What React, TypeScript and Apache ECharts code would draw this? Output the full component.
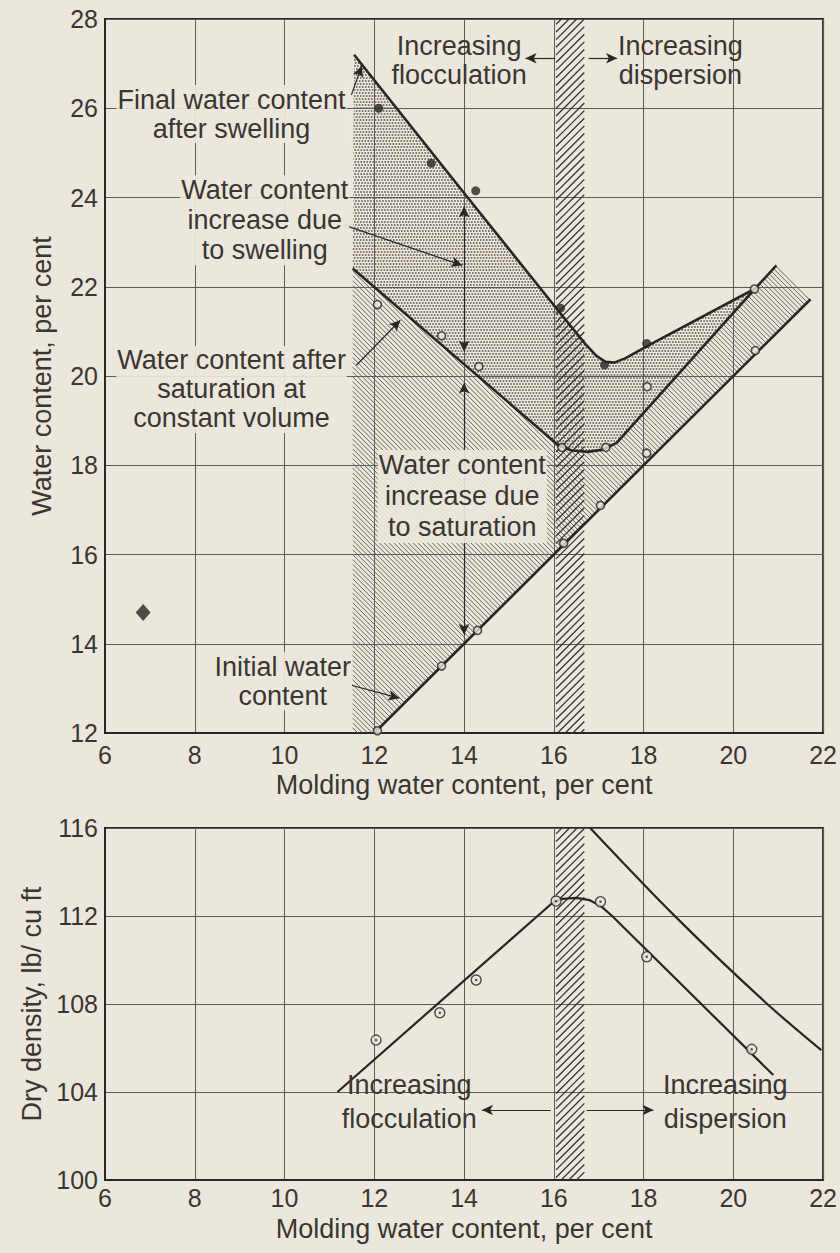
import React, { useEffect, useRef } from "react";
import * as echarts from "echarts";

// ---------- data ----------
// Upper chart: water content vs molding water content
const finalCurve = [
  [11.55, 27.2], [14.0, 24.1], [16.15, 21.4], [16.7, 20.72], [16.95, 20.45],
  [17.15, 20.32], [17.35, 20.3], [17.6, 20.4], [18.1, 20.68], [20.47, 21.95],
];
const finalPoints = [
  [12.1, 26.0], [13.27, 24.77], [14.26, 24.15], [16.15, 21.52], [17.13, 20.25], [18.07, 20.73],
];
const saturatedCurve = [
  [11.52, 22.41], [16.1, 18.45], [16.4, 18.33], [16.75, 18.3], [17.1, 18.35],
  [17.4, 18.5], [20.47, 21.94], [20.96, 22.48],
];
const saturatedPoints = [
  [12.07, 21.6], [13.5, 20.9], [14.33, 20.21], [16.18, 18.4], [17.16, 18.4], [18.08, 19.76], [20.47, 21.95],
];
const initialLine = [[12.0, 12.0], [21.72, 21.72]];
const initialPoints = [
  [12.07, 12.05], [13.5, 13.5], [14.3, 14.3], [16.22, 16.25], [17.04, 17.1], [18.07, 18.27], [20.49, 20.57],
];
const strayPoint = [[6.85, 14.7]];
const transitionBand = [16.05, 16.68];

// Lower chart: dry density vs molding water content
const compactionCurve = [
  [11.18, 104.0], [15.96, 112.58], [16.2, 112.78], [16.5, 112.82], [16.8, 112.72],
  [17.05, 112.45], [17.3, 112.0], [20.89, 104.77],
];
const densityPoints = [
  [12.04, 106.36], [13.46, 107.6], [14.27, 109.09], [16.05, 112.68], [17.04, 112.65], [18.07, 110.15], [20.41, 105.94],
];
const zeroAirVoids = [[16.81, 116.0], [18.67, 112.05], [20.7, 108.1], [21.96, 105.9]];

// axis ranges
const xRange = [6, 22];
const topYRange = [12, 28];
const botYRange = [100, 116];

// annotation texts (anchored in data coordinates)
const topNotes = [
  { at: [8.82, 25.87], text: "Final water content\nafter swelling", lh: 29, bg: true },
  { at: [9.56, 23.49], text: "Water content\nincrease due\nto swelling", lh: 30, bg: true },
  { at: [8.82, 19.7], text: "Water content after\nsaturation at\nconstant volume", lh: 29, bg: true },
  { at: [13.96, 17.3], text: "Water content\nincrease due\nto saturation", lh: 31, bg: true },
  { at: [9.96, 13.16], text: "Initial water\ncontent", lh: 29, bg: true },
  { at: [13.89, 27.08], text: "Increasing\nflocculation", lh: 29, bg: false },
  { at: [18.82, 27.08], text: "Increasing\ndispersion", lh: 29, bg: false },
];
const bottomNotes = [
  { at: [12.78, 103.55], text: "Increasing\nflocculation", lh: 34, bg: false },
  { at: [19.82, 103.55], text: "Increasing\ndispersion", lh: 34, bg: false },
];
const topLeaders = [
  [[11.49, 26.3], [11.72, 26.95]],
  [[11.33, 23.38], [13.96, 22.48]],
  [[11.6, 20.24], [12.58, 21.25]],
  [[11.49, 13.07], [12.56, 12.78]],
  [[16.03, 27.12], [15.37, 27.12]],
  [[16.78, 27.12], [17.41, 27.12]],
];
const topDimensions = [
  [[14, 23.8], [14, 20.55]],
  [[14, 19.85], [14, 14.2]],
];
const bottomLeaders = [
  [[15.93, 103.18], [14.4, 103.18]],
  [[16.73, 103.18], [18.22, 103.18]],
];

// ---------- styling ----------
const PAPER = "#ece7dc";
const INK = "#2a2622";
const TEXT = "#3a3631";
const GRIDC = "#5f5a53";
const FONT = '"Liberation Sans", Arial, sans-serif';
const NOTE_SIZE = 27;
const TICK_SIZE = 25;

type Seg = [number, number, number, number, number, number];

function hatchSegments(pts: number[][], dir: [number, number], step: number): Seg[] {
  const len = Math.hypot(dir[0], dir[1]);
  const d = [dir[0] / len, dir[1] / len];
  const n = [-d[1], d[0]];
  const proj = pts.map((p) => p[0] * n[0] + p[1] * n[1]);
  const cmin = Math.min(...proj);
  const cmax = Math.max(...proj);
  const segs: Seg[] = [];
  for (let k = Math.ceil(cmin / step); k * step <= cmax; k++) {
    const c = k * step;
    const ts: number[] = [];
    for (let i = 0; i < pts.length; i++) {
      const j = (i + 1) % pts.length;
      const a = pts[i];
      const b = pts[j];
      const da = proj[i] - c;
      const db = proj[j] - c;
      if (da < 0 !== db < 0) {
        const t = da / (da - db);
        const x = a[0] + t * (b[0] - a[0]);
        const y = a[1] + t * (b[1] - a[1]);
        ts.push(x * d[0] + y * d[1]);
      }
    }
    ts.sort((p, q) => p - q);
    for (let m = 0; m + 1 < ts.length; m += 2) {
      const s0 = ts[m];
      const s1 = ts[m + 1];
      segs.push([
        c * n[0] + s0 * d[0], c * n[1] + s0 * d[1],
        c * n[0] + s1 * d[0], c * n[1] + s1 * d[1], s0, k,
      ]);
    }
  }
  return segs;
}

type Fill = { kind: "stipple" | "fine" | "band" };

function regionSeries(poly: number[][], axis: number, fill: Fill, z: number) {
  return {
    type: "custom",
    coordinateSystem: "cartesian2d",
    xAxisIndex: axis,
    yAxisIndex: axis,
    data: [poly[0]],
    silent: true,
    clip: true,
    z,
    renderItem: (params: any, api: any) => {
      const px = poly.map((p) => api.coord(p));
      const children: any[] = [];
      if (fill.kind === "stipple") {
        const P = 3;
        hatchSegments(px, [1, 0], 3).forEach((s) => {
          const phase = (((s[4] + (s[5] % 2) * 1.5) % P) + P) % P;
          children.push({
            type: "line",
            shape: { x1: s[0], y1: s[1], x2: s[2], y2: s[3] },
            style: { stroke: "#55504a", lineWidth: 1.6, lineDash: [1.6, P - 1.6], lineDashOffset: phase },
          });
        });
      } else if (fill.kind === "fine") {
        hatchSegments(px, [1, 1], 3.4).forEach((s) => {
          children.push({
            type: "line",
            shape: { x1: s[0], y1: s[1], x2: s[2], y2: s[3] },
            style: { stroke: "#625d55", lineWidth: 0.95 },
          });
        });
      } else {
        hatchSegments(px, [1, -1], 5.4).forEach((s) => {
          children.push({
            type: "line",
            shape: { x1: s[0], y1: s[1], x2: s[2], y2: s[3] },
            style: { stroke: "#35312c", lineWidth: 1.3 },
          });
        });
      }
      return { type: "group", children };
    },
  };
}

function notesSeries(notes: any[], axis: number) {
  return {
    type: "custom",
    coordinateSystem: "cartesian2d",
    xAxisIndex: axis,
    yAxisIndex: axis,
    data: notes.map((n) => n.at),
    silent: true,
    clip: false,
    z: 6,
    renderItem: (params: any, api: any) => {
      const n = notes[params.dataIndex];
      const p = api.coord([api.value(0), api.value(1)]);
      return {
        type: "text",
        x: p[0],
        y: p[1],
        style: {
          text: n.text,
          fill: TEXT,
          fontSize: NOTE_SIZE,
          fontFamily: FONT,
          align: "center",
          verticalAlign: "middle",
          lineHeight: n.lh,
          backgroundColor: n.bg ? "rgba(236,231,220,0.92)" : "transparent",
          padding: [0, 1],
        },
      };
    },
  };
}

function leaderData(list: number[][][], both: boolean) {
  return list.map(([a, b]) => [
    { coord: a, symbol: both ? "arrow" : "none" },
    { coord: b, symbol: "arrow" },
  ]);
}

const axisCommon = {
  type: "value",
  axisLine: { show: true, lineStyle: { color: INK, width: 2 } },
  axisTick: { show: false },
  splitLine: { show: true, lineStyle: { color: GRIDC, width: 1 } },
  nameLocation: "middle",
  nameTextStyle: { color: TEXT, fontSize: NOTE_SIZE, fontFamily: FONT },
};

function buildOption() {
  const [xmin, xmax] = xRange;
  const swellingZone = [
    ...finalCurve,
    ...saturatedCurve.filter((p) => p[0] <= finalCurve[finalCurve.length - 1][0]).reverse(),
  ];
  const saturationZone = [
    ...saturatedCurve,
    initialLine[1],
    initialLine[0],
    [saturatedCurve[0][0], topYRange[0]],
  ];
  const bandTop = [
    [transitionBand[0], topYRange[0]], [transitionBand[1], topYRange[0]],
    [transitionBand[1], topYRange[1]], [transitionBand[0], topYRange[1]],
  ];
  const bandBottom = [
    [transitionBand[0], botYRange[0]], [transitionBand[1], botYRange[0]],
    [transitionBand[1], botYRange[1]], [transitionBand[0], botYRange[1]],
  ];

  const lineStyle = { color: INK, width: 2.6 };
  const markStyle = {
    silent: true,
    symbolSize: [8, 11],
    lineStyle: { color: INK, width: 1.2, type: "solid" },
    label: { show: false },
    emphasis: { disabled: true },
  };
  const tickLabel = (margin: number) => ({ color: TEXT, fontSize: TICK_SIZE, fontFamily: FONT, margin });

  return {
    animation: false,
    backgroundColor: PAPER,
    grid: [
      { left: 105, top: 19, width: 720, height: 714, show: true, borderColor: INK, borderWidth: 2 },
      { left: 105, top: 828, width: 720, height: 352, show: true, borderColor: INK, borderWidth: 2 },
    ],
    xAxis: [
      {
        ...axisCommon, gridIndex: 0, min: xmin, max: xmax, interval: 2,
        axisLabel: tickLabel(9),
        name: "Molding water content, per cent", nameGap: 38,
      },
      {
        ...axisCommon, gridIndex: 1, min: xmin, max: xmax, interval: 2,
        axisLabel: tickLabel(5),
        name: "Molding water content, per cent", nameGap: 35,
      },
    ],
    yAxis: [
      {
        ...axisCommon, gridIndex: 0, min: topYRange[0], max: topYRange[1], interval: 2,
        axisLabel: tickLabel(7),
        name: "Water content, per cent", nameGap: 50,
      },
      {
        ...axisCommon, gridIndex: 1, min: botYRange[0], max: botYRange[1], interval: 4,
        axisLabel: tickLabel(7),
        name: "Dry density, lb/ cu ft", nameGap: 50,
      },
    ],
    series: [
      regionSeries(swellingZone, 0, { kind: "stipple" }, 1),
      regionSeries(saturationZone, 0, { kind: "fine" }, 1),
      regionSeries(bandTop, 0, { kind: "band" }, 2),
      regionSeries(bandBottom, 1, { kind: "band" }, 2),
      {
        type: "line", name: "Final water content", xAxisIndex: 0, yAxisIndex: 0,
        data: finalCurve, showSymbol: false, lineStyle, z: 3, silent: true,
      },
      {
        type: "line", name: "Saturated water content", xAxisIndex: 0, yAxisIndex: 0,
        data: saturatedCurve, showSymbol: false, lineStyle, z: 3, silent: true,
      },
      {
        type: "line", name: "Initial water content", xAxisIndex: 0, yAxisIndex: 0,
        data: initialLine, showSymbol: false, lineStyle, z: 3, silent: true,
        markLine: {
          ...markStyle,
          symbol: ["none", "arrow"],
          data: [...leaderData(topLeaders, false), ...leaderData(topDimensions, true)],
        },
      },
      {
        type: "scatter", xAxisIndex: 0, yAxisIndex: 0, data: finalPoints,
        symbol: "circle", symbolSize: 9, itemStyle: { color: INK }, z: 4, silent: true,
      },
      {
        type: "scatter", xAxisIndex: 0, yAxisIndex: 0, data: [...saturatedPoints, ...initialPoints],
        symbol: "circle", symbolSize: 8,
        itemStyle: { color: PAPER, borderColor: INK, borderWidth: 1.6 }, z: 4, silent: true,
      },
      {
        type: "scatter", xAxisIndex: 0, yAxisIndex: 0, data: strayPoint,
        symbol: "diamond", symbolSize: [15, 17], itemStyle: { color: INK }, z: 4, silent: true,
      },
      {
        type: "line", name: "Compaction curve", xAxisIndex: 1, yAxisIndex: 1,
        data: compactionCurve, showSymbol: false, lineStyle: { color: INK, width: 2.2 }, z: 3, silent: true,
        markLine: { ...markStyle, symbol: ["none", "arrow"], data: leaderData(bottomLeaders, false) },
      },
      {
        type: "line", name: "Zero air voids", xAxisIndex: 1, yAxisIndex: 1,
        data: zeroAirVoids, smooth: 0.3, showSymbol: false, lineStyle: { color: INK, width: 2.2 }, z: 3, silent: true,
      },
      {
        type: "scatter", xAxisIndex: 1, yAxisIndex: 1, data: densityPoints,
        symbol: "circle", symbolSize: 10,
        itemStyle: { color: PAPER, borderColor: INK, borderWidth: 1.4 }, z: 4, silent: true,
      },
      {
        type: "scatter", xAxisIndex: 1, yAxisIndex: 1, data: densityPoints,
        symbol: "circle", symbolSize: 2.5, itemStyle: { color: INK }, z: 5, silent: true,
      },
      notesSeries(topNotes, 0),
      notesSeries(bottomNotes, 1),
    ],
  };
}

export default function App() {
  const ref = useRef<HTMLDivElement>(null);
  useEffect(() => {
    document.body.style.margin = "0";
    document.body.style.background = PAPER;
    if (!ref.current) return;
    const chart = echarts.init(ref.current, null, { renderer: "svg" });
    chart.setOption(buildOption() as any);
    return () => chart.dispose();
  }, []);
  return <div ref={ref} style={{ width: 840, height: 1253 }} />;
}
